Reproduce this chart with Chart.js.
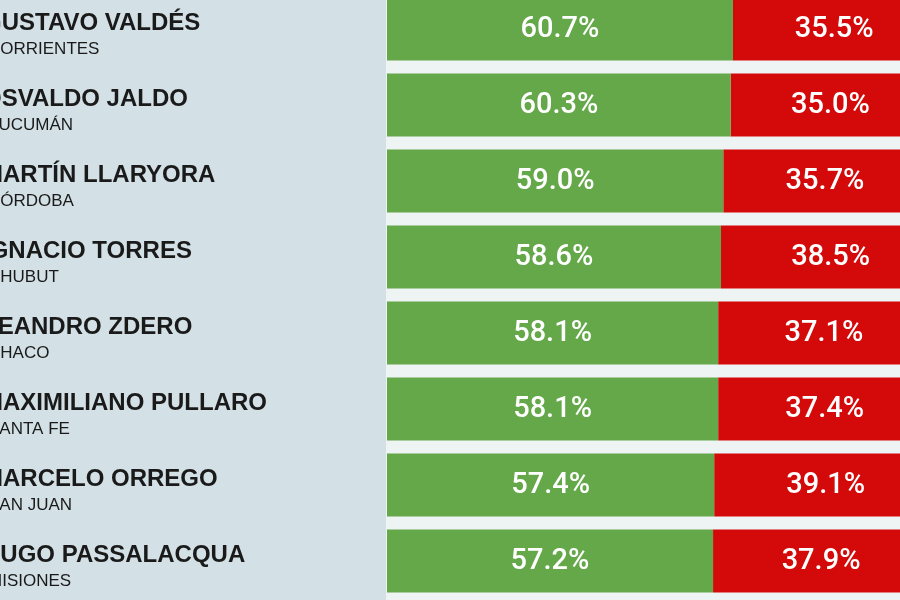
<!DOCTYPE html>
<html><head><meta charset="utf-8">
<script src="https://cdn.jsdelivr.net/npm/chart.js@4"></script>
<style>
html,body{margin:0;padding:0;overflow:hidden;background:#eef3f4;width:900px;height:600px}
#wrap{position:absolute;left:0;top:-9px;width:900px;height:610px}
#bg{position:absolute;left:0;top:0;width:386px;height:600px;background:#d3e0e6}
</style></head>
<body>
<div id="bg"></div>
<div id="wrap"><canvas id="c"></canvas></div>
<script>
const names = ["GUSTAVO VALDÉS","OSVALDO JALDO","MARTÍN LLARYORA","IGNACIO TORRES","LEANDRO ZDERO","MAXIMILIANO PULLARO","MARCELO ORREGO","HUGO PASSALACQUA"];
const provinces = ["CORRIENTES","TUCUMÁN","CÓRDOBA","CHUBUT","CHACO","SANTA FE","SAN JUAN","MISIONES"];
const approve = [60.7,60.3,59.0,58.6,58.1,58.1,57.4,57.2];
const disapprove = [35.5,35.0,35.7,38.5,37.1,37.4,39.1,37.9];

const labelsPlugin = {
  id:'lbl',
  afterDatasetsDraw(chart){
    const ctx = chart.ctx, y = chart.scales.y, x = chart.scales.x;
    ctx.save();
    ctx.textBaseline='middle';
    names.forEach((n,i)=>{
      const cy = y.getPixelForValue(i);
      ctx.fillStyle='#1a1a1a';
      ctx.textAlign='left';
      ctx.font='bold 24px "Liberation Sans", Arial';
      ctx.fillText(n,-17,cy-6);
      ctx.font='17px "Liberation Sans", Arial';
      ctx.fillText(provinces[i],-12,cy+20);
      ctx.fillStyle='#ffffff';
      ctx.textAlign='center';
      ctx.font='500 29px Roboto';
      const g0=x.getPixelForValue(0), g1=x.getPixelForValue(approve[i]), r1=x.getPixelForValue(approve[i]+disapprove[i]);
      ctx.fillText(approve[i].toFixed(1)+'%',(g0+g1)/2,cy+1);
      ctx.fillText(disapprove[i].toFixed(1)+'%',(g1+r1)/2,cy+1);
    });
    ctx.restore();
  }
};

new Chart(document.getElementById('c'),{
  type:'bar',
  data:{labels:names,datasets:[
    {data:approve,backgroundColor:'#64a84a',barPercentage:0.83,categoryPercentage:1},
    {data:disapprove,backgroundColor:'#d40a0a',barPercentage:0.83,categoryPercentage:1}
  ]},
  options:{
    indexAxis:'y',responsive:true,maintainAspectRatio:false,animation:false,
    layout:{padding:{left:387,right:0,top:0,bottom:2}},
    plugins:{legend:{display:false},tooltip:{enabled:false}},
    scales:{
      x:{stacked:true,min:0,max:90,display:false},
      y:{stacked:true,display:false}
    }
  },
  plugins:[labelsPlugin]
});
</script>
</body></html>
